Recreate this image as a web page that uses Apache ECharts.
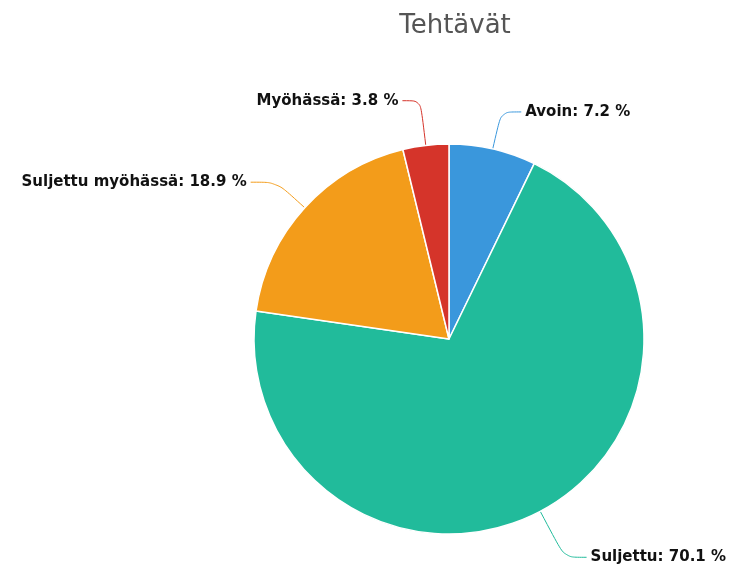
<!DOCTYPE html>
<html>
<head>
<meta charset="utf-8">
<script src="https://cdn.jsdelivr.net/npm/echarts@6/dist/echarts.min.js"></script>
<style>
html,body{margin:0;padding:0;background:#fff;}
#chart{width:729px;height:571px;}
</style>
</head>
<body>
<div id="chart"></div>
<script>
var categories=['Avoin','Suljettu','Suljettu myöhässä','Myöhässä'];
var values=[7.2,70.1,18.9,3.8];
var colors=['#3a97dc','#21bb9b','#f39c1a','#d5342a'];
// per slice connector lengths
var lineLen=[38,52,38,45];
var lineLen2=[20,22,26,18];

var mychart=echarts.init(document.getElementById('chart'));
var pieData=[];
for(var i=0;i<categories.length;i++){
	pieData.push({
		name:categories[i],
		value:values[i],
		itemStyle:{color:colors[i]},
		labelLine:{length:lineLen[i],length2:lineLen2[i],lineStyle:{color:colors[i]}}
	});
}
var option={
	animation:false,
	title:{
		text:'Tehtävät',
		left:450,
		textAlign:'center',
		top:8,
		textStyle:{fontFamily:'DejaVu Sans',fontSize:26,fontWeight:'normal',color:'#555'}
	},
	series:[
		{
			type:'pie',
			center:[449,339],
			radius:195,
			startAngle:90,
			clockwise:true,
			avoidLabelOverlap:false,
			itemStyle:{borderColor:'#fff',borderWidth:1.5},
			label:{
				show:true,
				position:'outside',
				formatter:function(p){return p.name+': '+p.value.toFixed(1)+' %';},
				fontFamily:'DejaVu Sans',
				fontSize:15,
				fontWeight:'bold',
				color:'#111',
				distanceToLabelLine:4
			},
			labelLine:{show:true,smooth:0.3,lineStyle:{width:1}},
			data:pieData
		}
	]
};
mychart.setOption(option);
</script>
</body>
</html>
